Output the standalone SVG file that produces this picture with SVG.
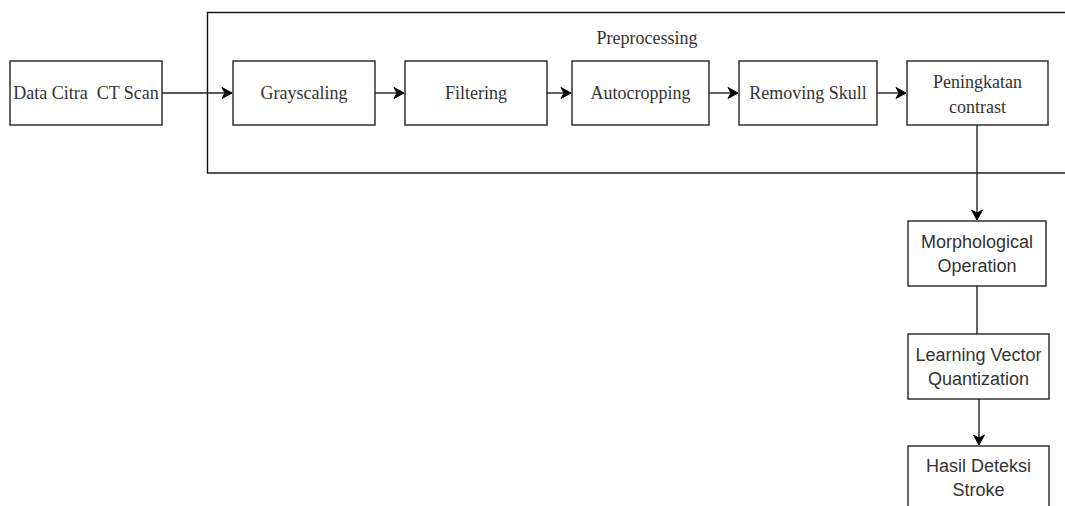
<svg xmlns="http://www.w3.org/2000/svg" width="1065" height="506" viewBox="0 0 1065 506">
<defs>
<marker id="arr" markerWidth="14" markerHeight="14" refX="11" refY="7" orient="auto" markerUnits="userSpaceOnUse">
<path d="M1,1.5 L11,7 L1,12.5 L4,7 Z" fill="#000" stroke="#000" stroke-width="1"/>
</marker>
</defs>
<style>
.box{fill:#fff;stroke:#222;stroke-width:1.4}
.serif{font-family:"Liberation Serif","Times New Roman",serif;font-size:18px;fill:#333;text-anchor:middle}
.sans{font-family:"Liberation Sans",Arial,sans-serif;font-size:18px;fill:#333;text-anchor:middle}
.con{fill:none;stroke:#222;stroke-width:1.4}
</style>
<rect width="1065" height="506" fill="#fff"/>
<g id="preprocessing">
<rect x="207.5" y="12.5" width="870" height="160.5" fill="none" stroke="#111" stroke-width="1.4"/>
<text class="serif" x="647" y="44">Preprocessing</text>
</g>
<g id="data-citra">
<rect class="box" x="10" y="61" width="152" height="64"/>
<text class="serif" x="86" y="99" xml:space="preserve" style="white-space:pre">Data Citra  CT Scan</text>
</g>
<g id="grayscaling">
<rect class="box" x="233" y="61" width="142" height="64"/>
<text class="serif" x="304" y="99">Grayscaling</text>
</g>
<g id="filtering">
<rect class="box" x="405" y="61" width="142" height="64"/>
<text class="serif" x="476" y="99">Filtering</text>
</g>
<g id="autocropping">
<rect class="box" x="572" y="61" width="137" height="64"/>
<text class="serif" x="640.5" y="99">Autocropping</text>
</g>
<g id="removing-skull">
<rect class="box" x="739" y="61" width="138" height="64"/>
<text class="serif" x="808" y="99">Removing Skull</text>
</g>
<g id="peningkatan">
<rect class="box" x="907" y="61" width="141" height="64"/>
<text class="serif" x="977.5" y="88">Peningkatan</text>
<text class="serif" x="977.5" y="113">contrast</text>
</g>
<g id="morphological">
<rect class="box" x="908" y="221" width="138" height="65"/>
<text class="sans" x="977" y="248">Morphological</text>
<text class="sans" x="977" y="272">Operation</text>
</g>
<g id="lvq">
<rect class="box" x="908" y="334" width="141" height="65"/>
<text class="sans" x="978.5" y="361">Learning Vector</text>
<text class="sans" x="978.5" y="385">Quantization</text>
</g>
<g id="hasil">
<rect class="box" x="908" y="446" width="141" height="70"/>
<text class="sans" x="978.5" y="472">Hasil Deteksi</text>
<text class="sans" x="978.5" y="496">Stroke</text>
</g>
<g id="connectors">
<line class="con" x1="162" y1="93" x2="232" y2="93" marker-end="url(#arr)"/>
<line class="con" x1="375" y1="93" x2="404" y2="93" marker-end="url(#arr)"/>
<line class="con" x1="547" y1="93" x2="571" y2="93" marker-end="url(#arr)"/>
<line class="con" x1="709" y1="93" x2="738" y2="93" marker-end="url(#arr)"/>
<line class="con" x1="877" y1="93" x2="906" y2="93" marker-end="url(#arr)"/>
<line class="con" x1="977" y1="125" x2="977" y2="220" marker-end="url(#arr)"/>
<line class="con" x1="977" y1="286" x2="977" y2="334"/>
<line class="con" x1="979" y1="399" x2="979" y2="445" marker-end="url(#arr)"/>
</g>
</svg>
